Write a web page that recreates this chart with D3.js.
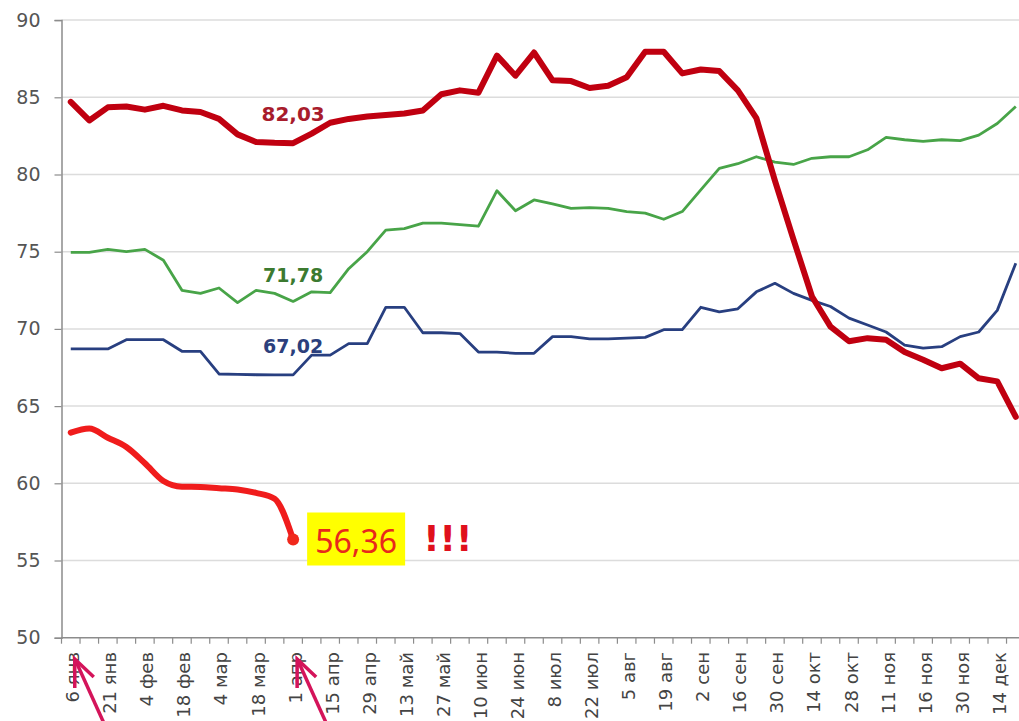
<!DOCTYPE html>
<html>
<head>
<meta charset="utf-8">
<script src="https://cdn.jsdelivr.net/npm/d3@7"></script>
<style>
  body { margin: 0; background: #fff; }
  svg { display: block; font-family: "DejaVu Sans", sans-serif; }
</style>
</head>
<body>
<svg id="chart" width="1019" height="721"></svg>
<script>
// week labels (every second week is labelled)
var weekLabels = ["6 янв", "21 янв", "4 фев", "18 фев", "4 мар", "18 мар", "1 апр", "15 апр",
  "29 апр", "13 май", "27 май", "10 июн", "24 июн", "8 июл", "22 июл", "5 авг", "19 авг",
  "2 сен", "16 сен", "30 сен", "14 окт", "28 окт", "11 ноя", "16 ноя", "30 ноя", "14 дек"];

var yTicks = [50, 55, 60, 65, 70, 75, 80, 85, 90];

// dark red series
var redDark = [84.7, 83.5, 84.35, 84.4, 84.2, 84.45, 84.15, 84.05, 83.6, 82.6, 82.1, 82.05, 82.03,
  82.65, 83.35, 83.6, 83.75, 83.85, 83.95, 84.15, 85.2, 85.45, 85.3, 87.7, 86.4, 87.9, 86.1,
  86.05, 85.6, 85.75, 86.3, 87.95, 87.95, 86.55, 86.8, 86.7, 85.45, 83.65, 79.6, 75.8, 72.1,
  70.15, 69.2, 69.4, 69.3, 68.5, 68.0, 67.45, 67.75, 66.8, 66.6, 64.3];

// green series
var green = [74.95, 74.95, 75.15, 75.0, 75.15, 74.45, 72.5, 72.3, 72.65, 71.7, 72.5, 72.3, 71.78,
  72.4, 72.35, 73.9, 75.0, 76.4, 76.5, 76.85, 76.85, 76.75, 76.65, 78.95, 77.65, 78.35, 78.1,
  77.8, 77.85, 77.8, 77.6, 77.5, 77.1, 77.6, 79.0, 80.4, 80.7, 81.15, 80.8, 80.65, 81.05,
  81.15, 81.15, 81.6, 82.4, 82.25, 82.15, 82.25, 82.2, 82.55, 83.3, 84.4];

// blue series
var blue = [68.7, 68.7, 68.7, 69.3, 69.3, 69.3, 68.55, 68.55, 67.08, 67.05, 67.03, 67.02, 67.02,
  68.3, 68.3, 69.05, 69.05, 71.4, 71.4, 69.75, 69.75, 69.7, 68.5, 68.5, 68.42, 68.42, 69.5,
  69.5, 69.35, 69.35, 69.4, 69.45, 69.95, 69.95, 71.4, 71.1, 71.3, 72.4, 72.95, 72.3, 71.85,
  71.45, 70.7, 70.25, 69.8, 68.95, 68.75, 68.85, 69.5, 69.8, 71.2, 74.25];

// bright red series (current year, stops at 1 апр)
var redBright = [63.28, 63.55, 62.95, 62.35, 61.3, 60.15, 59.78, 59.76, 59.68, 59.6, 59.38, 59.0, 56.36];

var labelWeek = 12;

var svg = d3.select("#chart"),
    nWeeks = redDark.length,
    step = 18.53,
    left = 61.5;

svg.append("rect").attr("width", 1019).attr("height", 721).attr("fill", "#fff");

var x = d3.scaleBand()
    .domain(d3.range(nWeeks))
    .range([left, left + nWeeks * step])
    .paddingInner(0).paddingOuter(0);

var y = d3.scaleLinear()
    .domain([50, 90])
    .range([637.7, 20.1]);

var cx = function(i) { return x(i) + x.bandwidth() / 2; };

// gridlines
svg.append("g")
  .selectAll("line")
  .data(yTicks.filter(function(d) { return d > 50; }))
  .enter().append("line")
    .attr("x1", left).attr("x2", 1019)
    .attr("y1", function(d) { return y(d); })
    .attr("y2", function(d) { return y(d); })
    .attr("stroke", "#dcdcdc")
    .attr("stroke-width", 1.5);

// y axis
var yAxis = svg.append("g")
    .attr("transform", "translate(" + left + ",0)")
    .call(d3.axisLeft(y).tickValues(yTicks).tickSize(7).tickPadding(14).tickFormat(d3.format("d")));
yAxis.select(".domain").attr("stroke", "#8c8c8c").attr("stroke-width", 1.5);
yAxis.selectAll(".tick line").attr("stroke", "#8c8c8c").attr("stroke-width", 1.2);
yAxis.selectAll(".tick text")
    .attr("font-size", 19)
    .attr("font-family", "DejaVu Sans, sans-serif")
    .attr("fill", "#555");

// x axis line + ticks at week boundaries
svg.append("line")
    .attr("x1", left).attr("x2", 1019)
    .attr("y1", y(50)).attr("y2", y(50))
    .attr("stroke", "#8c8c8c").attr("stroke-width", 1.5);

svg.append("g")
  .selectAll("line")
  .data(d3.range(nWeeks + 1))
  .enter().append("line")
    .attr("x1", function(i) { return left + i * x.step(); })
    .attr("x2", function(i) { return left + i * x.step(); })
    .attr("y1", y(50)).attr("y2", y(50) + 6)
    .attr("stroke", "#8c8c8c").attr("stroke-width", 1.2);

svg.append("g")
  .selectAll("text")
  .data(weekLabels)
  .enter().append("text")
    .attr("transform", function(d, k) { return "translate(" + (cx(k * 2) + 2) + ",652) rotate(-90)"; })
    .attr("dy", "0.36em")
    .attr("text-anchor", "end")
    .attr("font-size", 18)
    .attr("fill", "#444")
    .text(function(d) { return d; });

// lines
var line = d3.line()
    .x(function(d, i) { return cx(i); })
    .y(function(d) { return y(d); });

svg.append("path").datum(green)
    .attr("d", line).attr("fill", "none")
    .attr("stroke", "#48a448").attr("stroke-width", 2.8).attr("stroke-linejoin", "round");

svg.append("path").datum(blue)
    .attr("d", line).attr("fill", "none")
    .attr("stroke", "#283f80").attr("stroke-width", 2.8).attr("stroke-linejoin", "round");

svg.append("path").datum(redDark)
    .attr("d", line).attr("fill", "none")
    .attr("stroke", "#c00010").attr("stroke-width", 6)
    .attr("stroke-linejoin", "round").attr("stroke-linecap", "round");

svg.append("path").datum(redBright)
    .attr("d", line.curve(d3.curveMonotoneX)).attr("fill", "none")
    .attr("stroke", "#f01c1c").attr("stroke-width", 6)
    .attr("stroke-linejoin", "round").attr("stroke-linecap", "round");

var last = redBright.length - 1;
svg.append("circle")
    .attr("cx", cx(last)).attr("cy", y(redBright[last]))
    .attr("r", 6).attr("fill", "#f0281c");

// value labels at 1 апр
svg.append("text")
    .attr("x", cx(labelWeek)).attr("y", y(redDark[labelWeek]) - 22)
    .attr("text-anchor", "middle").attr("font-size", 20).attr("font-weight", "bold")
    .attr("fill", "#a81c2c").text(d3.format(".2f")(redDark[labelWeek]).replace(".", ","));

svg.append("text")
    .attr("x", cx(labelWeek)).attr("y", y(green[labelWeek]) - 19)
    .attr("text-anchor", "middle").attr("font-size", 19).attr("font-weight", "bold")
    .attr("fill", "#3c7a30").text(d3.format(".2f")(green[labelWeek]).replace(".", ","));

svg.append("text")
    .attr("x", cx(labelWeek)).attr("y", y(blue[labelWeek]) - 22)
    .attr("text-anchor", "middle").attr("font-size", 19).attr("font-weight", "bold")
    .attr("fill", "#2c3f7c").text(d3.format(".2f")(blue[labelWeek]).replace(".", ","));

// highlighted current value
var bx = cx(last) + 14, by = y(redBright[last]);
svg.append("rect")
    .attr("x", bx).attr("y", by - 27)
    .attr("width", 98).attr("height", 53)
    .attr("fill", "#ffff00");
svg.append("text")
    .attr("x", bx + 49).attr("y", by + 13)
    .attr("text-anchor", "middle")
    .attr("font-family", "Noto Sans, sans-serif")
    .attr("font-size", 32).attr("fill", "#e8281c")
    .text(d3.format(".2f")(redBright[last]).replace(".", ","));
svg.append("text")
    .attr("x", bx + 116).attr("y", by + 11)
    .attr("font-size", 36).attr("font-weight", "bold")
    .attr("fill", "#e0101c").text("!!!");

// pink arrows pointing at 6 янв and 1 апр
var arrowCol = "#d4145a";
[0, 12].forEach(function(i) {
  var tx = cx(i) + 4, ty = 659;
  svg.append("line")
      .attr("x1", tx + 1).attr("y1", ty + 2)
      .attr("x2", tx + 30).attr("y2", 725)
      .attr("stroke", arrowCol).attr("stroke-width", 3.5);
  svg.append("path")
      .attr("d", "M" + (tx + 19) + "," + (ty + 18) + " L" + tx + "," + ty + " L" + tx + "," + (ty + 29))
      .attr("fill", "none").attr("stroke", arrowCol).attr("stroke-width", 3.5)
      .attr("stroke-linejoin", "miter");
});
</script>
</body>
</html>
